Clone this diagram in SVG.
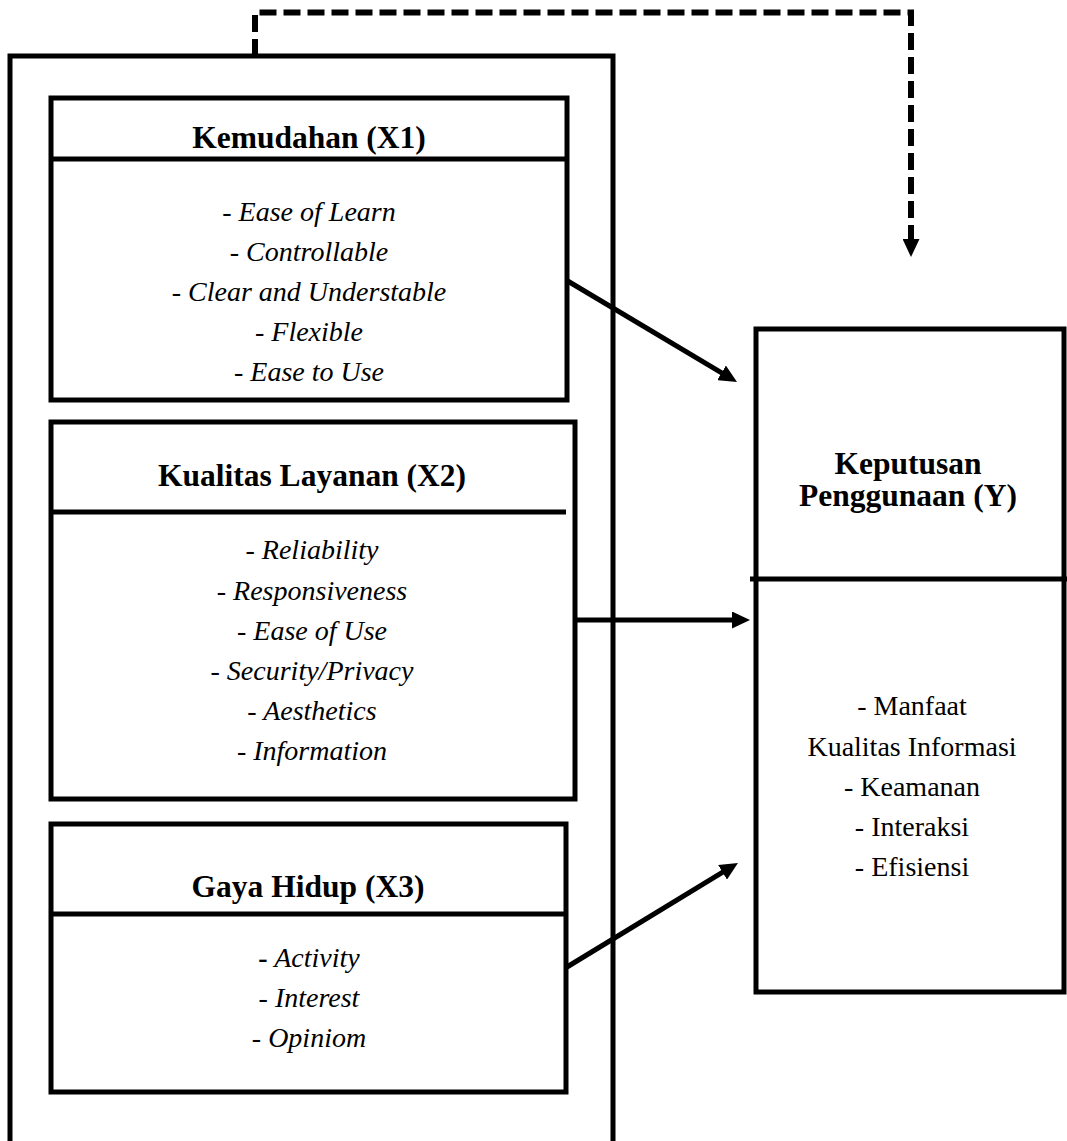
<svg xmlns="http://www.w3.org/2000/svg" width="1067" height="1141" viewBox="0 0 1067 1141">
<style>
.box{fill:none;stroke:#000;stroke-width:5}
.ln{stroke:#000;stroke-width:5;fill:none}
.dash{stroke:#000;stroke-width:6;fill:none;stroke-dasharray:17 7}
.t{font-family:"Liberation Serif","Times New Roman",serif;font-size:31.5px;font-weight:bold;text-anchor:middle;fill:#000}
.i{font-family:"Liberation Serif","Times New Roman",serif;font-size:28px;font-style:italic;text-anchor:middle;fill:#000}
.r{font-family:"Liberation Serif","Times New Roman",serif;font-size:28px;text-anchor:middle;fill:#000}
</style>
<defs>
<marker id="ah" markerUnits="userSpaceOnUse" markerWidth="18" markerHeight="17" refX="6" refY="8.5" orient="auto">
<path d="M0,0 L18,8.5 L0,17 z" fill="#000"/>
</marker>
</defs>
<rect width="1067" height="1141" fill="#fff"/>
<g id="outer">
<path class="ln" d="M10,1141 V56 H613 V1141"/>
</g>
<g id="x1">
<rect class="box" x="51" y="98" width="516" height="302"/>
<line class="ln" x1="51" y1="159" x2="567" y2="159"/>
<text class="t" x="309" y="148">Kemudahan (X1)</text>
<text class="i" x="309" y="221">- Ease of Learn</text>
<text class="i" x="309" y="261">- Controllable</text>
<text class="i" x="309" y="301">- Clear and Understable</text>
<text class="i" x="309" y="341">- Flexible</text>
<text class="i" x="309" y="381">- Ease to Use</text>
</g>
<g id="x2">
<rect class="box" x="51" y="422" width="524" height="377"/>
<line class="ln" x1="51" y1="512" x2="566" y2="512"/>
<text class="t" x="312" y="486">Kualitas Layanan (X2)</text>
<text class="i" x="312" y="559">- Reliability</text>
<text class="i" x="312" y="600">- Responsiveness</text>
<text class="i" x="312" y="640">- Ease of Use</text>
<text class="i" x="312" y="680">- Security/Privacy</text>
<text class="i" x="312" y="720">- Aesthetics</text>
<text class="i" x="312" y="760">- Information</text>
</g>
<g id="x3">
<rect class="box" x="51" y="824" width="515" height="268"/>
<line class="ln" x1="51" y1="914" x2="566" y2="914"/>
<text class="t" x="308" y="897">Gaya Hidup (X3)</text>
<text class="i" x="309" y="967"><tspan font-weight="bold" font-style="normal">-</tspan> Activity</text>
<text class="i" x="309" y="1007">- Interest</text>
<text class="i" x="309" y="1047">- Opiniom</text>
</g>
<g id="y">
<rect class="box" x="756" y="329" width="308" height="663"/>
<line class="ln" x1="750" y1="579" x2="1067" y2="579"/>
<text class="t" x="908" y="474">Keputusan</text>
<text class="t" x="908" y="506">Penggunaan (Y)</text>
<text class="r" x="912" y="715">- Manfaat</text>
<text class="r" x="912" y="756">Kualitas Informasi</text>
<text class="r" x="912" y="796">- Keamanan</text>
<text class="r" x="912" y="836">- Interaksi</text>
<text class="r" x="912" y="876">- Efisiensi</text>
</g>
<g id="connectors">
<path class="dash" d="M255,56 V12.5 H911 V245" marker-end="url(#ah)"/>
<line class="ln" x1="566" y1="280" x2="726.7" y2="375.9" marker-end="url(#ah)"/>
<line class="ln" x1="575" y1="620" x2="738" y2="620" marker-end="url(#ah)"/>
<line class="ln" x1="567" y1="967" x2="727.7" y2="869.2" marker-end="url(#ah)"/>
</g>
</svg>
